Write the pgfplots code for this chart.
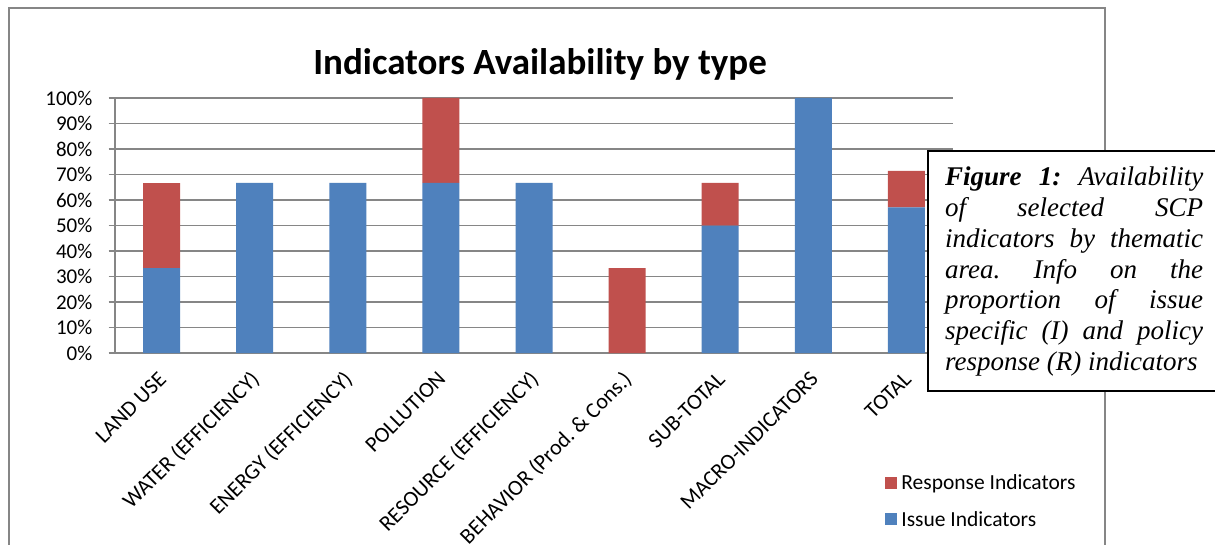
\documentclass[border=0pt]{standalone}
\usepackage{pgfplots}
\pgfplotsset{compat=1.18}
\usepackage{fontspec}
\setmainfont{Carlito}
\newfontfamily\tnr{Liberation Serif}
\definecolor{xblue}{RGB}{79,129,189}
\definecolor{xred}{RGB}{192,80,77}
\definecolor{xgrid}{RGB}{134,134,134}
\frenchspacing
\begin{document}
\begin{tikzpicture}[x=1pt,y=1pt]
\useasboundingbox (0,0) rectangle (1215,544);
\fill[white] (0,0) rectangle (1215,544);
% outer chart frame
\draw[xgrid, line width=1.8pt] (9,-20) -- (9,536) -- (1105,536) -- (1105,-20);
% title
\node[anchor=base, font=\fontsize{37}{42}\selectfont\bfseries, inner sep=0pt] at (540,469) {Indicators Availability by type};
\begin{axis}[
  at={(115pt,191pt)}, anchor=south west,
  scale only axis, width=838pt, height=255pt,
  xmin=-0.5, xmax=8.5, ymin=0, ymax=100,
  ybar stacked, bar width=37pt,
  axis lines*=left,
  axis line style={xgrid, line width=1.4pt, -},
  ymajorgrids, grid style={xgrid, line width=1.4pt},
  ytick={0,10,...,100},
  yticklabel={\pgfmathprintnumber{\tick}\%},
  tick align=outside,
  major tick length=6.5pt,
  tick style={xgrid, line width=1.4pt},
  xtick={0,...,8},
  xticklabels={LAND USE, WATER (EFFICIENCY), ENERGY (EFFICIENCY), POLLUTION, RESOURCE (EFFICIENCY), BEHAVIOR (Prod. \& Cons.), SUB-TOTAL, MACRO-INDICATORS, TOTAL},
  x tick style={draw=none},
  extra x ticks={-0.5,0.5,...,8.5},
  extra x tick labels={},
  extra x tick style={grid=none, tick style={xgrid, line width=1.4pt, draw=xgrid}},
  xticklabel style={font=\fontsize{22}{26}\selectfont, inner sep=0pt, xshift=6pt, yshift=-21pt, rotate=45, anchor=base east},
  yticklabel style={font=\fontsize{21}{25}\selectfont, inner sep=0pt, xshift=-16pt, anchor=east},
  /pgf/number format/assume math mode=true,
  legend style={draw=none, fill=none, at={(0.919,-0.477)}, anchor=north west,
    font=\fontsize{21.5}{25}\selectfont, row sep=20pt, inner sep=0pt,
    nodes={inner sep=0pt, anchor=west}},
  legend cell align=left,
  reverse legend,
  legend image code/.code={\fill[#1] (0pt,-6pt) rectangle (12pt,6pt);},
  legend style={/tikz/every odd column/.append style={column sep=4pt}},
  clip=false,
]
\addplot[fill=xblue, draw=none] coordinates {(0,33.33) (1,66.67) (2,66.67) (3,66.67) (4,66.67) (5,0) (6,50) (7,100) (8,57.14)};
\addlegendentry{Issue Indicators}
\addplot[fill=xred, draw=none] coordinates {(0,33.33) (1,0) (2,0) (3,33.33) (4,0) (5,33.33) (6,16.67) (7,0) (8,14.29)};
\addlegendentry{Response Indicators}
\end{axis}
% caption text box
\fill[white] (928,393) rectangle (1220,153);
\draw[black, line width=1.3pt] (928,393) rectangle (1220,153);
\node[anchor=north west, inner sep=0pt, text width=258pt, align=justify,
  font=\tnr\itshape\fontsize{27}{30.7}\selectfont] at (945,377)
  {\textbf{Figure 1:} Availability\linebreak of selected SCP\linebreak indicators by thematic\linebreak area. Info on the\linebreak proportion of issue\linebreak specific (I) and policy\linebreak response (R) indicators};
\end{tikzpicture}
\end{document}
